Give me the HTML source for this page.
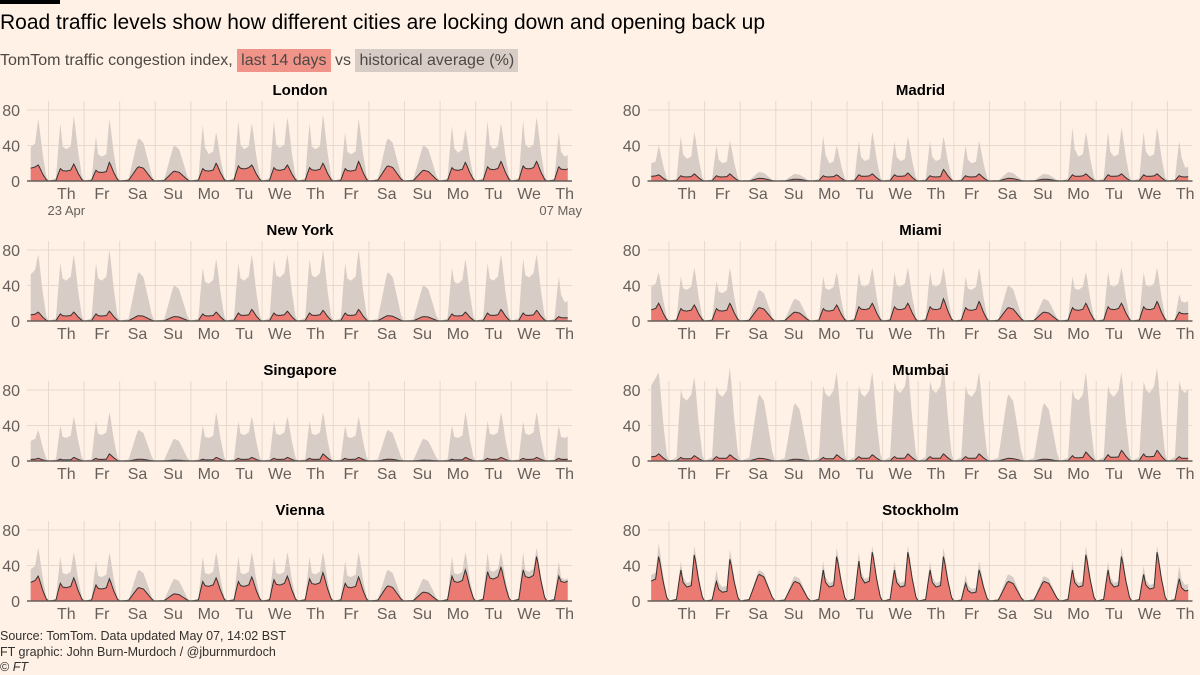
<!DOCTYPE html>
<html><head><meta charset="utf-8">
<style>
body{margin:0;background:#fff1e5;font-family:"Liberation Sans",sans-serif;}
#wrap{position:relative;width:1200px;height:675px;overflow:hidden;background:#fff1e5;}
.t{position:absolute;white-space:nowrap;}
</style></head><body>
<div id="wrap">
<div style="position:absolute;left:0;top:0;width:60px;height:4px;background:#000"></div>
<div class="t" style="left:0;top:11px;font-size:21px;color:#000">Road traffic levels show how different cities are locking down and opening back up</div>
<div class="t" style="left:0;top:47px;font-size:16px;color:#4d4845;line-height:27px">TomTom traffic congestion index, <span style="background:#f0948a;padding:3px 4px">last 14 days</span> vs <span style="background:#d8cdc6;padding:3px 4px">historical average (%)</span></div>
<svg id="svg" width="1200" height="675" style="position:absolute;left:0;top:0"></svg>
<div class="t" style="left:0;top:629px;font-size:12.5px;color:#33302e;line-height:15.5px">Source: TomTom. Data updated May 07, 14:02 BST<br>FT graphic: John Burn-Murdoch / @jburnmurdoch<br>© <i>FT</i></div>
</div>
<script>
const days=['We','Th','Fr','Sa','Su','Mo','Tu','We','Th','Fr','Sa','Su','Mo','Tu','We','Th'];
const yTicks=[0,40,80];
const cities=['London','Madrid','New York','Miami','Singapore','Mumbai','Vienna','Stockholm'];
const londonHistAM=[70,65,50,48,40,63,68,68,65,55,48,40,62,68,68,55];
const londonHistPM=[70,73,70,48,40,55,65,72,75,70,48,40,58,65,72,50];
const londonCurAM=[18,14,12,16,11,14,17,15,15,14,17,12,15,16,17,16];
const londonCurPM=[18,19,21,16,11,20,18,18,20,22,17,12,21,22,22,16];
const madridHistAM=[40,50,40,10,8,50,45,45,45,40,10,8,60,55,55,45];
const madridHistPM=[40,55,45,10,8,40,55,50,50,45,10,8,55,60,60,30];
const madridCurAM=[7,6,6,3,2,6,7,7,6,6,3,2,7,7,7,6];
const madridCurPM=[7,8,8,3,2,7,8,9,13,8,3,2,8,8,8,7];
const nyHistAM=[75,65,65,55,40,60,65,70,70,65,55,40,60,65,70,50];
const nyHistPM=[75,75,80,55,40,70,75,75,80,80,55,40,70,75,75,30];
const nyCurAM=[10,8,8,6,5,8,9,9,9,9,6,5,8,9,9,5];
const nyCurPM=[10,10,11,6,5,10,13,11,12,13,6,5,10,13,12,5];
const miamiHistAM=[55,50,45,35,25,50,55,55,55,50,40,25,50,55,55,30];
const miamiHistPM=[55,60,60,35,25,55,60,60,60,60,40,25,55,60,60,40];
const miamiCurAM=[16,14,14,15,10,14,16,16,16,15,15,10,15,16,16,10];
const miamiCurPM=[20,18,20,15,10,18,20,20,25,22,15,10,20,20,22,12];
const sgHistAM=[35,40,45,35,25,40,45,45,45,40,35,25,40,45,45,40];
const sgHistPM=[35,50,55,35,25,55,50,50,55,50,35,25,55,55,55,60];
const sgCurAM=[3,2,3,2,1,2,3,3,3,3,2,1,2,3,3,3];
const sgCurPM=[3,4,8,2,1,4,4,4,8,4,2,1,4,4,4,4];
const mumHistAM=[100,80,85,75,65,85,85,90,90,85,75,65,80,85,90,90];
const mumHistPM=[100,95,105,75,65,100,100,105,110,100,75,65,100,100,105,95];
const mumCurAM=[8,4,5,3,2,4,5,5,5,5,3,2,6,7,8,5];
const mumCurPM=[8,6,7,3,2,7,7,8,8,8,3,2,10,12,12,6];
const vieHistAM=[60,50,45,35,25,50,50,50,50,45,35,25,50,55,55,45];
const vieHistPM=[60,55,55,35,25,55,55,55,55,55,35,25,55,55,60,40];
const vieCurAM=[28,20,18,15,8,22,22,24,25,20,17,10,28,33,35,28];
const vieCurPM=[28,26,25,15,8,26,27,28,32,27,17,10,35,38,50,30];
const stoHistAM=[65,45,35,35,28,45,55,45,45,30,30,28,45,45,40,40];
const stoHistPM=[65,62,58,35,28,60,62,62,60,45,30,28,62,60,62,40];
const stoCurAM=[50,35,22,30,22,35,45,35,35,20,22,22,35,35,30,25];
const stoCurPM=[50,52,47,30,22,50,55,55,50,35,22,22,52,50,55,30];
const histAM=[londonHistAM,madridHistAM,nyHistAM,miamiHistAM,sgHistAM,mumHistAM,vieHistAM,stoHistAM];
const histPM=[londonHistPM,madridHistPM,nyHistPM,miamiHistPM,sgHistPM,mumHistPM,vieHistPM,stoHistPM];
const curAM=[londonCurAM,madridCurAM,nyCurAM,miamiCurAM,sgCurAM,mumCurAM,vieCurAM,stoCurAM];
const curPM=[londonCurPM,madridCurPM,nyCurPM,miamiCurPM,sgCurPM,mumCurPM,vieCurPM,stoCurPM];
const histMidRatio=[0.55,0.5,0.7,0.7,0.65,0.85,0.6,0.45];
const curMidRatio=[0.8,0.75,0.7,0.8,0.6,0.6,0.75,0.45];

const NS='http://www.w3.org/2000/svg';
const svg=document.getElementById('svg');
const dayW=35.6, hourW=dayW/24, pxPerUnit=35.5/40;
function mk(tag,attrs,parent){const e=document.createElementNS(NS,tag);for(const k in attrs)e.setAttribute(k,attrs[k]);(parent||svg).appendChild(e);return e;}
function interp(pts,h){for(let i=1;i<pts.length;i++){if(h<=pts[i][0]){const a=pts[i-1],b=pts[i];return a[1]+(b[1]-a[1])*(h-a[0])/(b[0]-a[0]);}}return 0;}
function val(d,h,am,pm,midR){
  if(days[d]==='Sa'||days[d]==='Su'){const v=am;return interp([[0,0],[6,0.05*v],[9,0.5*v],[12,0.95*v],[13,v],[16,0.9*v],[19,0.5*v],[21.5,0.15*v],[23.5,0],[24,0]],h);}
  const mid=midR*Math.min(am,pm);
  return interp([[0,0],[5,0.05*am],[7,0.7*am],[8,am],[9.5,Math.max(mid*1.05,0.6*am)],[12,mid],[15,mid*1.1],[17,pm],[18,pm*0.85],[20,pm*0.45],[22.5,pm*0.08],[24,0]],h);
}
cities.forEach((name,ci)=>{
  const col=ci%2, row=Math.floor(ci/2);
  const off=col*620.5, base=181+row*140;
  const x0=48.5+off-dayW;
  const X=(d,h)=>x0+d*dayW+h*hourW;
  const Y=v=>base-v*pxPerUnit;
  const g=mk('g',{});
  
  
  yTicks.forEach(v=>{
    if(v>0){const l=mk('line',{x1:27+off,x2:572+off,y1:Y(v),y2:Y(v),stroke:'#e6d9ce','stroke-width':1},g);
      }
    const tt=mk('text',{x:20+off,y:Y(v)+6,'text-anchor':'end','font-size':16,fill:'#66605c'},g);
    tt.textContent=v;
    
    
  });
  for(let d=1;d<days.length;d++){
    const l=mk('line',{x1:X(d,0),x2:X(d,0),y1:base-80,y2:base,stroke:'#e6d9ce','stroke-width':1},g);
    
    
    const tt=mk('text',{x:X(d,12),y:base+18,'text-anchor':'middle','font-size':16,fill:'#66605c'},g);
    tt.textContent=days[d];
    
    
  }
  function series(AM,PM,midR){
    const pts=[];
    for(let d=0;d<days.length;d++){
      const hs=d===0?12:0, he=d===days.length-1?14:24;
      for(let h=hs;h<=he;h+=0.5){pts.push([X(d,h),Y(val(d,h,AM[ci][d],PM[ci][d],midR))]);}
    }
    return pts;
  }
  const hp=series(histAM,histPM,histMidRatio[ci]), cp=series(curAM,curPM,curMidRatio[ci]);
  const area=p=>'M'+p[0][0].toFixed(1)+','+base+'L'+p.map(q=>q[0].toFixed(1)+','+q[1].toFixed(1)).join('L')+'L'+p[p.length-1][0].toFixed(1)+','+base+'Z';
  const ha=mk('path',{d:area(hp),fill:'#d8cdc6'},g);
  
  
  const ca=mk('path',{d:area(cp),fill:'#eb7a72'},g);
  
  
  const cl=mk('path',{d:'M'+cp.map(q=>q[0].toFixed(1)+','+q[1].toFixed(1)).join('L'),fill:'none',stroke:'#33302e','stroke-width':1},g);
  
  
  const ax=mk('line',{x1:27+off,x2:572+off,y1:base,y2:base,stroke:'#66605c','stroke-width':1.5},g);
  
  
  const t=mk('text',{x:300+off,y:base-86,'text-anchor':'middle','font-size':15,'font-weight':'bold',fill:'#000'},g);
  t.textContent=name;
  
  
  if(ci===0){
    const a=mk('text',{x:X(1,12),y:base+34,'text-anchor':'middle','font-size':13,fill:'#66605c'},g);a.textContent='23 Apr';
    
    const b=mk('text',{x:X(15,12)-4,y:base+34,'text-anchor':'middle','font-size':13,fill:'#66605c'},g);b.textContent='07 May';
    
  }
});
</script>
</body></html>
